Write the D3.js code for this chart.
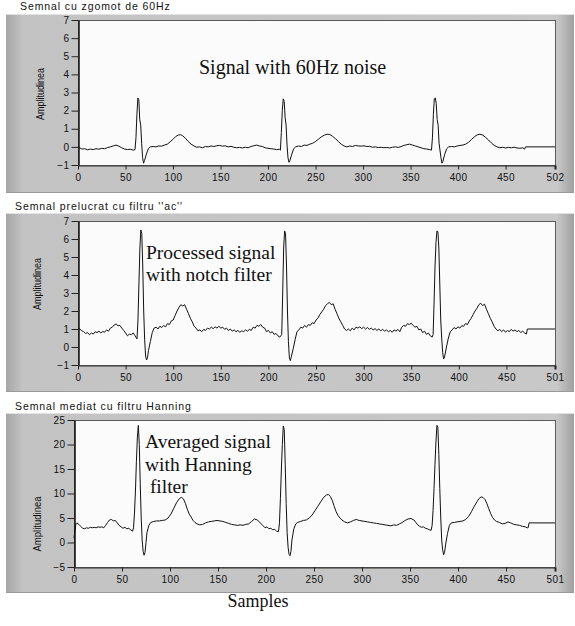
<!DOCTYPE html>
<html>
<head>
<meta charset="utf-8">
<script src="https://cdn.jsdelivr.net/npm/d3@7"></script>
<style>
  body { margin: 0; background: #fff; }
  svg { display: block; }
  .tick text { font-family: "Liberation Sans", Arial, sans-serif; font-size: 10px; letter-spacing: 0.4px; fill: #111; }
  .ttl { font-family: "Liberation Sans", Arial, sans-serif; font-size: 10.5px; letter-spacing: 0.9px; fill: #111; }
  .ylab { font-family: "Liberation Sans Narrow", "Liberation Sans", Arial, sans-serif; font-size: 10px; fill: #111; }
  .note { font-family: "Liberation Serif", "Times New Roman", serif; fill: #111; }
</style>
</head>
<body>
<svg width="575" height="626"></svg>
<script>
let svg = d3.select("svg");

// [sample, amplitude]
const noisySignal = [[0,0.0],[2,-0.05],[4,-0.12],[7,-0.1],[10,-0.16],[13,-0.12],[16,-0.15],[19,-0.1],[22,-0.13],[25,-0.08],[28,-0.1],[31,-0.04],[34,0.0],[37,0.05],[40,0.1],[43,0.04],[46,-0.05],[49,-0.12],[52,-0.15],[55,-0.13],[58,-0.18],[60,-0.15],[61,0.5],[62,1.8],[63,2.7],[64,2.6],[65,1.5],[66,1.2],[67,0.2],[68,-0.6],[69,-0.9],[70,-0.75],[72,-0.4],[74,-0.1],[76,0.0],[79,0.02],[82,0.0],[85,0.05],[88,0.04],[91,0.1],[94,0.15],[97,0.28],[100,0.42],[103,0.58],[106,0.66],[108,0.67],[110,0.62],[113,0.48],[116,0.3],[119,0.15],[122,0.05],[125,-0.02],[128,0.0],[131,-0.05],[134,0.02],[137,0.0],[140,0.05],[143,0.02],[146,0.06],[149,0.08],[152,0.04],[155,0.06],[158,0.0],[161,0.03],[164,-0.02],[167,-0.05],[170,-0.03],[173,-0.06],[176,-0.02],[179,-0.05],[182,0.02],[185,0.06],[188,0.1],[191,0.05],[194,0.02],[197,-0.05],[200,-0.08],[203,-0.1],[206,-0.12],[209,-0.15],[212,-0.13],[213,-0.18],[214,0.8],[215,2.0],[216,2.65],[217,2.5],[218,1.6],[219,1.2],[220,0.1],[221,-0.6],[222,-0.85],[223,-0.75],[225,-0.4],[227,-0.1],[229,0.0],[232,0.05],[235,0.02],[238,0.1],[241,0.08],[244,0.15],[247,0.2],[250,0.3],[253,0.42],[256,0.55],[259,0.64],[262,0.7],[265,0.68],[268,0.58],[271,0.45],[274,0.3],[277,0.15],[280,0.05],[283,0.0],[286,0.05],[289,0.02],[292,0.08],[295,0.05],[298,0.04],[301,0.06],[304,0.02],[307,0.03],[310,-0.02],[313,0.0],[316,-0.04],[319,-0.02],[322,-0.05],[325,-0.03],[328,-0.06],[331,-0.02],[334,0.0],[337,-0.03],[340,0.02],[343,0.08],[346,0.12],[349,0.15],[352,0.1],[355,0.05],[358,0.0],[361,-0.05],[364,-0.1],[367,-0.12],[370,-0.15],[372,-0.18],[373,0.5],[374,1.8],[375,2.65],[376,2.7],[377,2.4],[378,1.5],[379,1.2],[380,0.2],[382,-0.6],[383,-0.9],[384,-0.8],[386,-0.4],[388,-0.1],[390,0.0],[393,0.02],[396,0.0],[399,0.05],[402,0.08],[405,0.1],[408,0.15],[411,0.25],[414,0.4],[417,0.55],[420,0.66],[423,0.7],[426,0.65],[429,0.52],[432,0.38],[435,0.22],[438,0.08],[441,0.0],[444,-0.05],[447,-0.02],[450,-0.06],[453,-0.03],[456,-0.05],[459,-0.02],[462,-0.06],[465,-0.08],[468,-0.05],[470,-0.12],[471,0.0],[502,0.0]];

const notchSignal = [[0,1.04],[2,1.0],[4,0.9],[6,0.85],[8,0.75],[10,0.8],[12,0.68],[14,0.78],[16,0.72],[18,0.85],[20,0.8],[22,0.88],[24,0.78],[26,0.86],[28,0.82],[30,0.95],[32,0.88],[34,1.05],[36,1.1],[38,1.22],[40,1.28],[42,1.18],[44,1.2],[46,1.05],[48,0.92],[50,0.78],[52,0.62],[54,0.72],[56,0.68],[58,0.78],[60,0.62],[62,0.45],[63,1.5],[64,3.5],[65,5.5],[66,6.5],[67,6.3],[68,4.5],[69,2.0],[70,0.4],[71,-0.5],[72,-0.72],[73,-0.6],[74,-0.2],[76,0.3],[78,0.8],[80,1.05],[82,1.1],[84,1.0],[86,1.15],[88,1.08],[90,1.2],[92,1.12],[94,1.3],[96,1.25],[98,1.45],[100,1.5],[102,1.75],[104,2.0],[106,2.2],[108,2.35],[110,2.28],[112,2.35],[114,2.1],[116,1.85],[118,1.6],[120,1.4],[122,1.15],[124,1.05],[126,0.9],[128,0.95],[130,0.85],[132,0.98],[134,0.92],[136,1.05],[138,1.0],[140,1.1],[142,1.02],[144,1.12],[146,1.05],[148,1.15],[150,1.05],[152,1.1],[154,0.98],[156,1.05],[158,0.92],[160,1.0],[162,0.88],[164,0.95],[166,0.85],[168,0.92],[170,0.82],[172,0.9],[174,0.85],[176,0.95],[178,0.88],[180,0.98],[182,0.92],[184,1.1],[186,1.05],[188,1.2],[190,1.15],[192,1.25],[194,1.1],[196,1.05],[198,0.85],[200,0.92],[202,0.78],[204,0.85],[206,0.7],[208,0.75],[210,0.62],[212,0.55],[214,0.7],[215,3.0],[216,5.5],[217,6.45],[218,6.3],[219,4.5],[220,2.0],[221,0.3],[222,-0.6],[223,-0.76],[224,-0.55],[226,-0.1],[228,0.4],[230,0.85],[232,0.95],[234,1.1],[236,1.05],[238,1.2],[240,1.1],[242,1.25],[244,1.2],[246,1.35],[248,1.3],[250,1.5],[252,1.6],[254,1.8],[256,1.95],[258,2.1],[260,2.3],[262,2.4],[264,2.48],[266,2.35],[268,2.4],[270,2.1],[272,1.85],[274,1.6],[276,1.4],[278,1.2],[280,1.0],[282,0.92],[284,1.0],[286,0.9],[288,1.05],[290,0.95],[292,1.1],[294,1.05],[296,1.12],[298,1.02],[300,1.1],[302,1.0],[304,1.08],[306,0.98],[308,1.05],[310,0.95],[312,1.02],[314,0.92],[316,1.0],[318,0.9],[320,0.98],[322,0.88],[324,0.95],[326,0.85],[328,0.92],[330,0.82],[332,0.95],[334,0.88],[336,0.98],[338,0.85],[340,1.1],[342,1.2],[344,1.15],[346,1.3],[348,1.25],[350,1.32],[352,1.2],[354,1.1],[356,1.15],[358,0.95],[360,1.0],[362,0.8],[364,0.88],[366,0.7],[368,0.78],[370,0.62],[372,0.55],[373,0.7],[374,2.5],[375,4.5],[376,5.8],[377,6.45],[378,6.4],[379,5.5],[380,3.5],[381,1.5],[382,0.5],[383,-0.3],[384,-0.67],[385,-0.55],[387,0.0],[389,0.5],[391,0.85],[393,0.95],[395,1.08],[397,1.0],[399,1.12],[401,1.05],[403,1.18],[405,1.15],[407,1.3],[409,1.25],[411,1.45],[413,1.6],[415,1.8],[417,2.0],[419,2.15],[421,2.35],[423,2.43],[425,2.3],[427,2.38],[429,2.1],[431,1.85],[433,1.6],[435,1.4],[437,1.15],[439,1.0],[441,0.9],[443,0.98],[445,0.85],[447,0.95],[449,0.82],[451,0.92],[453,0.85],[455,0.98],[457,0.88],[459,0.95],[461,0.85],[463,0.92],[465,0.8],[467,0.88],[469,0.78],[471,0.72],[472,1.0],[501,1.0]];

const hanningSignal = [[0,0.9],[1,2.5],[2,3.8],[3,4.0],[5,3.7],[7,3.3],[9,2.9],[11,2.8],[13,3.0],[15,2.9],[17,3.1],[19,3.0],[21,3.1],[23,3.0],[25,3.2],[27,3.1],[29,3.2],[31,3.0],[33,3.5],[35,4.1],[37,4.6],[39,4.7],[41,4.4],[43,4.5],[45,4.0],[47,3.5],[49,3.2],[51,2.9],[53,3.1],[55,2.8],[57,2.9],[59,2.6],[61,2.3],[62,3.0],[63,6.0],[64,10.5],[65,16.5],[66,21.5],[67,23.9],[68,20.0],[69,12.0],[70,5.0],[71,0.5],[72,-1.8],[73,-2.6],[74,-2.0],[75,0.0],[76,2.0],[78,3.5],[80,4.1],[83,4.3],[86,4.4],[89,4.4],[92,4.5],[95,4.6],[98,5.0],[101,5.8],[104,7.0],[107,8.2],[110,9.0],[112,9.2],[114,8.9],[116,8.0],[118,6.8],[120,5.8],[122,5.2],[124,4.5],[126,4.1],[128,3.8],[131,3.6],[134,3.7],[137,4.0],[140,4.2],[143,4.3],[146,4.4],[149,4.5],[152,4.4],[155,4.3],[158,4.1],[161,3.9],[164,3.7],[167,3.6],[170,3.5],[173,3.6],[176,3.5],[179,3.7],[182,3.8],[185,4.3],[188,4.8],[191,4.6],[193,4.2],[195,3.8],[197,3.4],[199,3.0],[201,3.2],[203,2.8],[205,2.9],[207,2.6],[209,2.7],[211,2.3],[213,2.2],[214,4.0],[215,9.0],[216,15.0],[217,20.0],[218,23.8],[219,23.0],[220,16.0],[221,8.0],[222,2.0],[223,-1.0],[224,-2.4],[225,-2.7],[226,-1.8],[227,0.5],[229,2.8],[231,3.8],[233,4.1],[236,4.3],[239,4.5],[242,4.6],[245,5.0],[248,5.6],[251,6.5],[254,7.4],[257,8.3],[260,9.2],[263,9.7],[265,9.8],[267,9.4],[269,8.6],[271,7.4],[273,6.3],[275,5.5],[277,5.0],[279,4.6],[282,4.2],[285,4.0],[288,4.2],[291,4.5],[294,4.7],[297,4.5],[300,4.4],[303,4.3],[306,4.2],[309,4.1],[312,4.0],[315,3.9],[318,3.8],[321,3.7],[324,3.6],[327,3.5],[330,3.4],[333,3.6],[336,3.5],[339,3.8],[342,4.1],[345,4.5],[348,4.8],[351,4.9],[354,4.6],[356,4.1],[358,3.6],[360,3.3],[362,3.1],[364,3.2],[366,2.9],[368,2.8],[370,2.6],[372,2.5],[373,3.5],[374,6.5],[375,11.0],[376,16.0],[377,20.5],[378,23.9],[379,23.5],[380,18.0],[381,11.0],[382,5.0],[383,0.5],[384,-1.5],[385,-2.5],[386,-2.0],[387,-0.5],[389,1.8],[391,3.5],[393,4.0],[396,4.1],[399,4.2],[402,4.3],[405,4.4],[408,4.7],[411,5.3],[414,6.3],[417,7.4],[420,8.4],[422,9.0],[424,9.3],[426,9.2],[428,8.8],[430,8.0],[432,6.9],[434,5.9],[436,5.1],[438,4.6],[440,4.3],[443,4.1],[446,3.8],[449,3.9],[452,4.2],[455,4.0],[458,3.7],[461,3.6],[464,3.5],[467,3.3],[470,3.2],[472,3.0],[473,3.0],[474,4.0],[501,4.0]];

const xTicks = [0, 50, 100, 150, 200, 250, 300, 350, 400, 450];
const yTicksSmall = [-1, 0, 1, 2, 3, 4, 5, 6, 7];
const yTicksLarge = [-5, 0, 5, 10, 15, 20, 25];
const titles = ["Semnal cu zgomot de 60Hz", "Semnal prelucrat cu filtru ''ac''", "Semnal mediat cu filtru Hanning"];
const notes = [["Signal with 60Hz noise"], ["Processed signal", "with notch filter"], ["Averaged signal", "with Hanning", " filter"]];
const yLabel = "Amplitudinea";
const xLabel = "Samples";

let defs = svg.append("defs");
let grad = defs.append("linearGradient").attr("id", "frameGrad");
grad.append("stop").attr("offset", 0).attr("stop-color", "#a6a6a6");
grad.append("stop").attr("offset", 0.03).attr("stop-color", "#c3c3c3");
grad.append("stop").attr("offset", 0.97).attr("stop-color", "#c8c8c8");
grad.append("stop").attr("offset", 1).attr("stop-color", "#a0a0a0");

let panels = [
  { data: noisySignal, xMax: 502, yDom: [-1, 7], yTicks: yTicksSmall,
    frame: [6, 14, 568, 179], plot: [78, 20, 477, 145], titleAt: [20, 10],
    yLab: [40, 94, 52], noteAt: [199, 74], noteSize: 20, lineGap: 0 },
  { data: notchSignal, xMax: 501, yDom: [-1, 7], yTicks: yTicksSmall,
    frame: [6, 213, 568, 179], plot: [78, 221, 477, 144], titleAt: [15, 210],
    yLab: [37, 284, 52], noteAt: [146, 259], noteSize: 19.5, lineGap: 21.5 },
  { data: hanningSignal, xMax: 501, yDom: [-5, 25], yTicks: yTicksLarge,
    frame: [6, 413, 568, 180], plot: [74, 420, 481, 147], titleAt: [15, 410],
    yLab: [37, 524, 55], noteAt: [145, 448], noteSize: 19.5, lineGap: 22.5 }
];

panels.forEach((p, i) => {
  let [fx, fy, fw, fh] = p.frame;
  let [px, py, pw, ph] = p.plot;

  svg.append("text").attr("class", "ttl")
    .attr("x", p.titleAt[0]).attr("y", p.titleAt[1])
    .text(titles[i]);

  svg.append("rect")
    .attr("x", fx).attr("y", fy).attr("width", fw).attr("height", fh)
    .attr("fill", "url(#frameGrad)");
  svg.append("line").attr("x1", fx).attr("x2", fx + fw).attr("y1", fy + 0.5).attr("y2", fy + 0.5)
    .attr("stroke", "#e2e2e2");
  svg.append("line").attr("x1", fx).attr("x2", fx + fw).attr("y1", fy + fh - 0.5).attr("y2", fy + fh - 0.5)
    .attr("stroke", "#9a9a9a");

  let x = d3.scaleLinear().domain([0, p.xMax]).range([px, px + pw]);
  let y = d3.scaleLinear().domain(p.yDom).range([py + ph, py]);

  svg.append("rect")
    .attr("x", px + 0.5).attr("y", py + 0.5).attr("width", pw).attr("height", ph)
    .attr("fill", "#fbfbfb").attr("stroke", "#5a5a5a");

  let yAxis = svg.append("g")
    .attr("transform", `translate(${px + 0.5},0)`)
    .call(d3.axisLeft(y).tickValues(p.yTicks).tickSize(7).tickPadding(2).tickSizeOuter(0));
  yAxis.select(".domain").attr("stroke", "#111").attr("stroke-width", 1.5);
  yAxis.selectAll(".tick line").attr("stroke", "#222");

  let xAxis = svg.append("g")
    .attr("transform", `translate(0,${py + ph + 0.5})`)
    .call(d3.axisBottom(x).tickValues(xTicks.concat([p.xMax])).tickSize(4).tickPadding(4).tickSizeOuter(0));
  xAxis.select(".domain").attr("stroke", "#333");
  xAxis.selectAll(".tick line").attr("stroke", "#222")
    .attr("stroke-width", d => d === p.xMax ? 2 : 1);

  svg.append("text").attr("class", "ylab")
    .attr("transform", `translate(${p.yLab[0]},${p.yLab[1]}) rotate(-90)`)
    .attr("text-anchor", "middle").attr("dy", "0.35em")
    .attr("textLength", p.yLab[2]).attr("lengthAdjust", "spacingAndGlyphs")
    .text(yLabel);

  svg.append("path")
    .datum(p.data)
    .attr("fill", "none").attr("stroke", "#111").attr("stroke-width", 1)
    .attr("d", d3.line().x(d => x(d[0])).y(d => y(d[1])));

  notes[i].forEach((t, k) => {
    svg.append("text").attr("class", "note")
      .attr("x", p.noteAt[0]).attr("y", p.noteAt[1] + k * p.lineGap)
      .attr("font-size", p.noteSize)
      .style("white-space", "pre")
      .text(t);
  });
});

svg.append("text").attr("class", "note")
  .attr("x", 258).attr("y", 607).attr("text-anchor", "middle")
  .attr("font-size", 18)
  .text(xLabel);
</script>
</body>
</html>
